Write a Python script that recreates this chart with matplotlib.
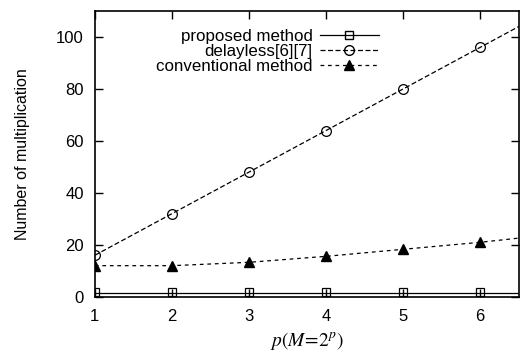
import matplotlib.pyplot as plt

plt.rcParams['font.family'] = ['Liberation Sans', 'DejaVu Sans']
plt.rcParams['mathtext.fontset'] = 'stix'

# data
p = [1, 2, 3, 4, 5, 6]
proposed = [2, 2, 2, 2, 2, 2]
delayless = [16, 32, 48, 64, 80, 96]
conventional = [12, 12, 13.3, 15.6, 18.3, 21]

# curve points (lines run to the right edge)
p_line = [1, 2, 3, 4, 5, 6, 6.5]
proposed_line = [1.5, 1.5, 1.5, 1.5, 1.5, 1.5, 1.5]
delayless_line = [16, 32, 48, 64, 80, 96, 104]
conventional_line = [12, 12, 13.3, 15.6, 18.3, 21, 22.6]

fig = plt.figure(figsize=(5.24, 3.53), dpi=100)
ax = fig.add_axes([0.181, 0.159, 0.809, 0.81])

ax.plot(p_line, proposed_line, color="black", lw=0.9)
ax.plot(p_line, delayless_line, color="black", lw=0.9, ls=(0, (4, 2)))
ax.plot(p_line, conventional_line, color="black", lw=0.9, ls=(0, (3, 3)))

ax.plot(p, proposed, ls="none", marker="s", ms=6, mfc="none", mec="black", mew=0.9)
ax.plot(p, delayless, ls="none", marker="o", ms=7, mfc="none", mec="black", mew=0.9)
ax.plot(p, conventional, ls="none", marker="^", ms=6.5, color="black")

# legend handles
h1, = ax.plot([], [], color="black", lw=0.9, marker="s", ms=6, mfc="none", mec="black")
h2, = ax.plot([], [], color="black", lw=0.9, ls=(0, (4, 2)), marker="o", ms=7, mfc="none", mec="black")
h3, = ax.plot([], [], color="black", lw=0.9, ls=(0, (3, 3)), marker="^", ms=6.5)
leg = ax.legend([h1, h2, h3], ["proposed method", "delayless[6][7]", "conventional method"],
                loc="upper right", bbox_to_anchor=(0.686, 0.96), frameon=False,
                markerfirst=False, fontsize=12.2, handlelength=3.5,
                labelspacing=0.0, borderaxespad=0, handletextpad=0.4)
for t in leg.get_texts():
    t.set_ha("right")
leg._legend_box.align = "right"

ax.set_xlim(1, 6.5)
ax.set_ylim(0, 110)
ax.set_xticks([1, 2, 3, 4, 5, 6])
ax.set_yticks([0, 20, 40, 60, 80, 100])
ax.tick_params(direction="in", top=True, right=True, length=6, labelsize=12, width=1)
ax.tick_params(axis="x", pad=9)
ax.tick_params(axis="y", pad=8)
for s in ax.spines.values():
    s.set_linewidth(1.2)

ax.set_xlabel(r"$p(M\!=\!2^p)$", fontsize=14, labelpad=4)
ax.set_ylabel("Number of multiplication", fontsize=11.5, labelpad=19)

fig.savefig("out.png", dpi=100)
